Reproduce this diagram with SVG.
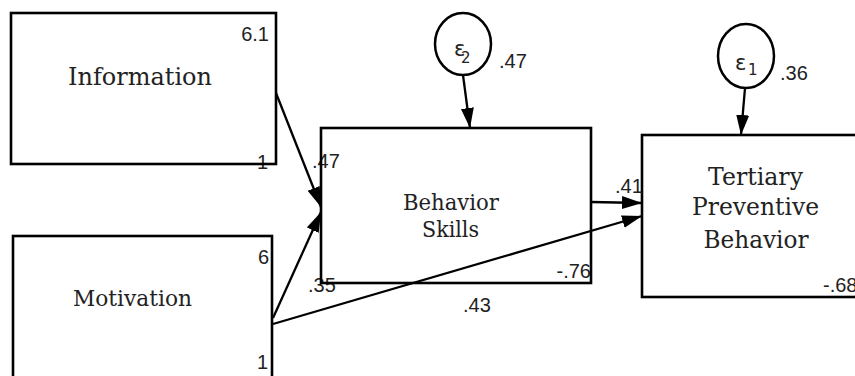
<svg xmlns="http://www.w3.org/2000/svg" width="855" height="376" viewBox="0 0 855 376">
<style>
.box{fill:none;stroke:#000;stroke-width:2.6}
.lat{fill:none;stroke:#000;stroke-width:2.5}
.lbl{font-family:"DejaVu Serif","Liberation Serif",serif;fill:#222;text-anchor:middle}
.num{font-family:"Liberation Sans",Arial,sans-serif;font-size:20px;fill:#222}
.eps{font-family:"DejaVu Sans","Liberation Sans",sans-serif;fill:#222}
.con{fill:none;stroke:#000;stroke-width:2.3}
</style>
<defs>
<marker id="ah" markerUnits="userSpaceOnUse" markerWidth="22" markerHeight="14" refX="20" refY="6.5" orient="auto">
<path d="M0,0 L20,6.5 L0,13 z" fill="#000"/>
</marker>
</defs>
<rect width="855" height="376" fill="#fff"/>
<g id="information">
<text class="lbl" x="140" y="85" font-size="23.5" textLength="144" lengthAdjust="spacingAndGlyphs">Information</text>
<text class="num" x="269" y="41" text-anchor="end">6.1</text>
<text class="num" x="268" y="169" text-anchor="end">1</text>
<rect class="box" x="11" y="13" width="265" height="151"/>
</g>
<g id="motivation">
<text class="lbl" x="132.5" y="306" font-size="22.5" textLength="119" lengthAdjust="spacingAndGlyphs">Motivation</text>
<text class="num" x="269" y="264" text-anchor="end">6</text>
<text class="num" x="268" y="369" text-anchor="end">1</text>
<rect class="box" x="13" y="236" width="259" height="150"/>
</g>
<g id="behavior-skills">
<text class="lbl" x="451" y="210" font-size="21.5" textLength="96" lengthAdjust="spacingAndGlyphs">Behavior</text>
<text class="lbl" x="450.5" y="237" font-size="21.5" textLength="57" lengthAdjust="spacingAndGlyphs">Skills</text>
<text class="num" x="312" y="168">.47</text>
<text class="num" x="308" y="292">.35</text>
<text class="num" x="591" y="278" text-anchor="end">-.76</text>
<rect class="box" x="321" y="128" width="270" height="155"/>
</g>
<g id="tertiary">
<text class="lbl" x="755.5" y="185" font-size="23.5" textLength="95" lengthAdjust="spacingAndGlyphs">Tertiary</text>
<text class="lbl" x="755.5" y="215" font-size="23.5" textLength="127" lengthAdjust="spacingAndGlyphs">Preventive</text>
<text class="lbl" x="756" y="248" font-size="23.5" textLength="105" lengthAdjust="spacingAndGlyphs">Behavior</text>
<text class="num" x="823" y="292">-.68</text>
<rect class="box" x="642" y="135" width="220" height="162"/>
</g>
<g id="e2">
<ellipse class="lat" cx="463" cy="44" rx="28" ry="31"/>
<text class="eps" x="454" y="56" font-size="21">ε</text>
<text class="eps" x="461" y="63" font-size="15">2</text>
<text class="num" x="499" y="68">.47</text>
</g>
<g id="e1">
<ellipse class="lat" cx="746" cy="56" rx="28" ry="32"/>
<text class="eps" x="735" y="70" font-size="21">ε</text>
<text class="eps" x="748" y="75" font-size="15">1</text>
<text class="num" x="780" y="80">.36</text>
</g>
<g id="connectors">
<line class="con" x1="276" y1="93" x2="321" y2="207" marker-end="url(#ah)"/>
<line class="con" x1="273" y1="318" x2="321" y2="212" marker-end="url(#ah)"/>
<line class="con" x1="273" y1="324" x2="642" y2="216" marker-end="url(#ah)"/>
<line class="con" x1="591" y1="202" x2="642" y2="203" marker-end="url(#ah)"/>
<line class="con" x1="463" y1="75" x2="470" y2="128" marker-end="url(#ah)"/>
<line class="con" x1="745" y1="88" x2="741" y2="135" marker-end="url(#ah)"/>
<text class="num" x="463" y="312">.43</text>
<text class="num" x="615" y="193">.41</text>
</g>
</svg>
